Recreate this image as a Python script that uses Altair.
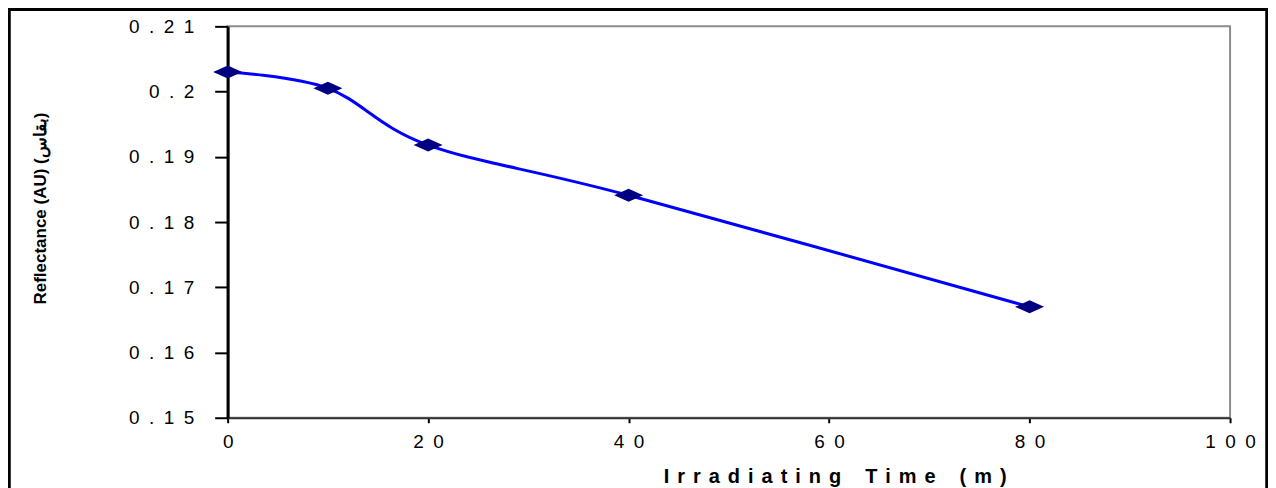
import altair as alt
import pandas as pd

times = [0, 10, 20, 40, 80]
reflectance = [0.2030, 0.2005, 0.1918, 0.1841, 0.1670]

x_ticks = [0, 20, 40, 60, 80, 100]
y_ticks = [0.15, 0.16, 0.17, 0.18, 0.19, 0.20, 0.21]

EN = "\u2002"
THIN2 = "\u2009\u2009"
x_title = ("\u2002\u2002\u2009").join(THIN2.join(list(w)) for w in "Irradiating Time (m)".split(" "))
y_title = "Reflectance (AU) (بقاس)"

df = pd.DataFrame({"t": times, "r": reflectance})

W, H = 1004, 392

x_enc = alt.X(
    "t:Q",
    scale=alt.Scale(domain=[0, 100], nice=False, zero=False),
    axis=alt.Axis(
        values=x_ticks,
        title=x_title,
        titleFont="Liberation Sans",
        titleFontSize=20,
        titleFontWeight="bold",
        titleColor="black",
        titleX=608,
        titleY=59,
        titleBaseline="middle",
        titleAlign="center",
        labelExpr="join(split(format(datum.value, 'd'), ''), '" + EN + "')",
        labelFont="Liberation Sans",
        labelFontSize=19,
        labelColor="black",
        labelPadding=10,
        labelFlush=False,
        labelOverlap=False,
        tickSize=5,
        tickWidth=2,
        tickColor="black",
        domainColor="#333333",
        domainWidth=2,
        grid=False,
    ),
)

y_enc = alt.Y(
    "r:Q",
    scale=alt.Scale(domain=[0.15, 0.21], nice=False, zero=False),
    axis=alt.Axis(
        values=y_ticks,
        title=y_title,
        titleFont="Liberation Sans Narrow, Arial Narrow, Liberation Sans",
        titleFontSize=17,
        titleFontWeight="bold",
        titleColor="black",
        titleAngle=-90,
        titleX=-187,
        titleY=182,
        titleAlign="center",
        titleBaseline="middle",
        labelExpr="join(split(format(datum.value, '.2~f'), ''), '" + EN + "')",
        labelFont="Liberation Sans",
        labelFontSize=19,
        labelColor="black",
        labelPadding=21,
        labelFlush=False,
        labelOverlap=False,
        tickSize=13,
        tickWidth=2,
        tickColor="black",
        domainColor="black",
        domainWidth=3,
        grid=False,
    ),
)

base = alt.Chart(df)

frame = base.mark_rect(fill=None, stroke="black", strokeWidth=2.5).encode(
    x=alt.value(-219), x2=alt.value(1041), y=alt.value(-17), y2=alt.value(560)
)

line = base.mark_line(color="#0000FF", strokeWidth=3, interpolate="cardinal").encode(
    x=x_enc, y=y_enc
)

pts = base.mark_point(
    shape="M-1,0L0,-0.45L1,0L0,0.45Z",
    size=841,
    filled=True,
    color="#000080",
    opacity=1,
).encode(x="t:Q", y="r:Q")

chart = (
    alt.layer(frame, line, pts)
    .properties(
        width=W,
        height=H,
        autosize=alt.AutoSizeParams(type="none"),
        padding={"left": 220, "top": 18, "right": 38, "bottom": 76},
        background="white",
    )
    .configure_view(stroke="#8c8c8c", strokeWidth=2)
)

chart.save("out.html", embed_options={"renderer": "svg", "actions": False})
